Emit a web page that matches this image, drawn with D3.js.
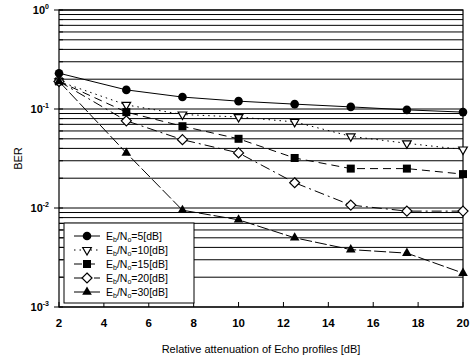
<!DOCTYPE html>
<html lang="en">
  <head>
    <meta charset="UTF-8" />
    <title>BER vs echo attenuation</title>
    <script src="https://d3js.org/d3.v7.min.js"></script>
    <style>
      body { margin: 0; background: #fff; }
      text { font-family: "Liberation Sans", Arial, sans-serif; fill: #000; }
      .grid { stroke: #000; stroke-width: 1; }
      .frame { fill: none; stroke: #000; stroke-width: 1.2; }
      .series { fill: none; stroke: #000; stroke-width: 1; }
    </style>
  </head>
  <body>
    <svg id="chart" width="473" height="360"></svg>
    <script>
      const attenuation = [2, 5, 7.5, 10, 12.5, 15, 17.5, 20];
      const xTicks = [2, 4, 6, 8, 10, 12, 14, 16, 18, 20];
      const yDecades = [0, -1, -2, -3];

      const ber5 = [0.23, 0.156, 0.132, 0.12, 0.112, 0.105, 0.098, 0.093];
      const ber10 = [0.19, 0.11, 0.088, 0.083, 0.074, 0.053, 0.045, 0.039];
      const ber15 = [0.19, 0.093, 0.067, 0.05, 0.032, 0.025, 0.025, 0.022];
      const ber20 = [0.19, 0.076, 0.049, 0.036, 0.018, 0.0107, 0.0093, 0.0093];
      const ber30 = [0.19, 0.036, 0.0095, 0.0076, 0.005, 0.0038, 0.0035, 0.0022];

      const seriesNames = ["5", "10", "15", "20", "30"];
      const seriesValues = [ber5, ber10, ber15, ber20, ber30];
      const seriesDash = [null, "1.5,4", "8,5", "10,4,2,4", "12,3"];
      const seriesMarker = ["circle", "triDown", "square", "diamond", "triUp"];

      const svg = d3.select("#chart");
      const margin = { top: 10, right: 10, bottom: 53, left: 59 };
      const width = 463 - margin.left;
      const height = 307 - margin.top;

      const x = d3.scaleLinear().domain([2, 20]).range([0, width]);
      const y = d3.scaleLog().domain([1e-3, 1]).range([height, 0]);

      const plot = svg.append("g")
        .attr("transform", "translate(" + margin.left + "," + margin.top + ")");

      // horizontal grid at every 1..9 x decade
      const gridVals = [];
      for (let d = -3; d < 0; d++) {
        for (let m = 1; m <= 9; m++) gridVals.push(m * Math.pow(10, d));
      }
      gridVals.push(1);
      plot.selectAll("line.grid")
        .data(gridVals)
        .join("line")
        .attr("class", "grid")
        .attr("x1", 0).attr("x2", width)
        .attr("y1", d => y(d)).attr("y2", d => y(d));

      plot.append("rect").attr("class", "frame")
        .attr("x", 0).attr("y", 0).attr("width", width).attr("height", height);

      // minor ticks on the left axis
      plot.selectAll("line.ytick")
        .data(gridVals)
        .join("line")
        .attr("stroke", "#000")
        .attr("x1", 0).attr("x2", 4)
        .attr("y1", d => y(d)).attr("y2", d => y(d));
      plot.selectAll("line.ymajor")
        .data(yDecades)
        .join("line")
        .attr("stroke", "#000")
        .attr("x1", -5).attr("x2", 0)
        .attr("y1", d => y(Math.pow(10, d))).attr("y2", d => y(Math.pow(10, d)));

      // x ticks
      plot.selectAll("line.xtick")
        .data(xTicks)
        .join("line")
        .attr("stroke", "#000")
        .attr("x1", d => x(d)).attr("x2", d => x(d))
        .attr("y1", height).attr("y2", height - 5);

      plot.selectAll("text.xlab")
        .data(xTicks)
        .join("text")
        .attr("x", d => x(d))
        .attr("y", height + 20)
        .attr("text-anchor", "middle")
        .attr("font-size", 11.5)
        .attr("font-weight", "bold")
        .text(d => d);

      const ylab = plot.selectAll("text.ylab")
        .data(yDecades)
        .join("text")
        .attr("x", -10)
        .attr("y", d => y(Math.pow(10, d)) + 4)
        .attr("text-anchor", "end")
        .attr("font-size", 11)
        .attr("font-weight", "bold");
      ylab.append("tspan").text("10");
      ylab.append("tspan").attr("dy", -5).attr("font-size", 7).text(d => d === 0 ? "0" : d);

      svg.append("text")
        .attr("transform", "translate(22," + (margin.top + height / 2) + ") rotate(-90)")
        .attr("text-anchor", "middle")
        .attr("font-size", 11)
        .text("BER");

      svg.append("text")
        .attr("x", margin.left + width / 2)
        .attr("y", 353)
        .attr("text-anchor", "middle")
        .attr("font-size", 11)
        .text("Relative attenuation of Echo profiles [dB]");

      function drawMarker(g, type, cx, cy) {
        if (type === "circle") {
          g.append("circle").attr("cx", cx).attr("cy", cy).attr("r", 4.3).attr("fill", "#000");
        } else if (type === "square") {
          g.append("rect").attr("x", cx - 4).attr("y", cy - 4).attr("width", 8).attr("height", 8).attr("fill", "#000");
        } else if (type === "triDown") {
          g.append("path").attr("d", d3.symbol(d3.symbolTriangle, 32)())
            .attr("transform", "translate(" + cx + "," + cy + ") rotate(180)")
            .attr("fill", "#fff").attr("stroke", "#000").attr("stroke-width", 1.2);
        } else if (type === "triUp") {
          g.append("path").attr("d", d3.symbol(d3.symbolTriangle, 40)())
            .attr("transform", "translate(" + cx + "," + cy + ")")
            .attr("fill", "#000");
        } else if (type === "diamond") {
          g.append("path").attr("d", "M0,-5L5,0L0,5L-5,0Z")
            .attr("transform", "translate(" + cx + "," + cy + ")")
            .attr("fill", "#fff").attr("stroke", "#000").attr("stroke-width", 1.2);
        }
      }

      const line = d3.line()
        .x((d, i) => x(attenuation[i]))
        .y(d => y(d));

      seriesValues.forEach((vals, k) => {
        plot.append("path")
          .attr("class", "series")
          .attr("d", line(vals))
          .attr("stroke-dasharray", seriesDash[k]);
        const mg = plot.append("g");
        vals.forEach((v, i) => drawMarker(mg, seriesMarker[k], x(attenuation[i]), y(v)));
      });

      // legend
      const legend = svg.append("g").attr("transform", "translate(64,223)");
      legend.append("rect")
        .attr("width", 130).attr("height", 80)
        .attr("fill", "#fff").attr("stroke", "#000").attr("stroke-width", 1);
      seriesNames.forEach((name, k) => {
        const ly = 13 + k * 14;
        legend.append("line")
          .attr("x1", 10).attr("x2", 36).attr("y1", ly).attr("y2", ly)
          .attr("stroke", "#000").attr("stroke-dasharray", seriesDash[k]);
        drawMarker(legend, seriesMarker[k], 23, ly);
        const t = legend.append("text")
          .attr("x", 42).attr("y", ly + 4)
          .attr("font-size", 10.5);
        t.append("tspan").text("E");
        t.append("tspan").attr("font-size", 7).attr("dy", 2).text("b");
        t.append("tspan").attr("dy", -2).text("/N");
        t.append("tspan").attr("font-size", 7).attr("dy", 2).text("o");
        t.append("tspan").attr("dy", -2).text("=" + name + "[dB]");
      });
    </script>
  </body>
</html>
